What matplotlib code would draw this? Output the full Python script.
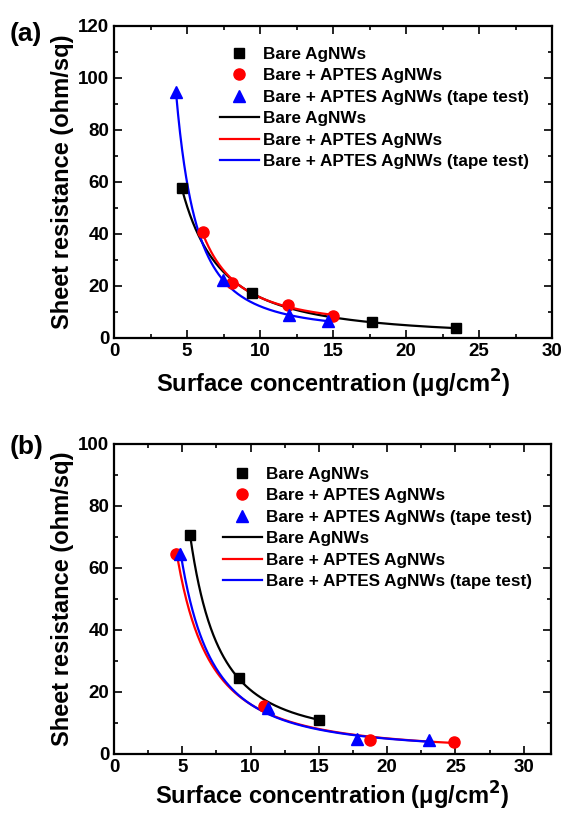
import numpy as np
import matplotlib
matplotlib.use("Agg")
import matplotlib.pyplot as plt
from matplotlib.ticker import MultipleLocator
from matplotlib.lines import Line2D

plt.rcParams['font.family'] = ['Liberation Sans', 'DejaVu Sans']
plt.rcParams['font.weight'] = 'bold'
plt.rcParams['mathtext.default'] = 'bf'

series_names = ["Bare AgNWs", "Bare + APTES AgNWs", "Bare + APTES AgNWs (tape test)"]

# Panel (a)
a_bare_x = [4.64, 9.44, 17.66, 23.44]
a_bare_y = [57.6, 17.3, 6.0, 3.8]
a_aptes_x = [6.12, 8.11, 11.95, 14.99]
a_aptes_y = [40.6, 21.1, 12.8, 8.6]
a_tape_x = [4.25, 7.45, 12.0, 14.65]
a_tape_y = [94.5, 22.2, 9.0, 6.4]

# Panel (b)
b_bare_x = [5.57, 9.12, 15.04]
b_bare_y = [70.6, 24.4, 11.0]
b_aptes_x = [4.55, 10.95, 18.73, 24.9]
b_aptes_y = [64.4, 15.5, 4.5, 4.0]
b_tape_x = [4.84, 11.3, 17.8, 23.05]
b_tape_y = [64.5, 14.7, 4.7, 4.5]

colors = ["black", "red", "blue"]
markers = ["s", "o", "^"]
msizes = [7.5, 8, 9]

fig = plt.figure(figsize=(5.61, 8.14), dpi=100)
W, H = 561, 814

def ax_at(l, t, r, b):
    return fig.add_axes([l / W, 1 - b / H, (r - l) / W, (b - t) / H])

def fit_curve(x, y):
    x = np.asarray(x, float); y = np.asarray(y, float)
    deg = 2 if len(x) >= 3 else 1
    c = np.polyfit(np.log(x), np.log(y), deg)
    xs = np.linspace(x.min(), x.max(), 300)
    return xs, np.exp(np.polyval(c, np.log(xs)))

def draw(ax, data, xmax, ymax, ymajor, legend_anchor, xlabelpad):
    for (x, y), c, m, ms in zip(data, colors, markers, msizes):
        ax.plot(x, y, linestyle='none', marker=m, color=c, markersize=ms, zorder=3)
    for (x, y), c in zip(data, colors):
        xs, ys = fit_curve(x, y)
        ax.plot(xs, ys, color=c, lw=1.6, zorder=2)
    ax.set_xlim(0, xmax)
    ax.set_ylim(0, ymax)
    ax.xaxis.set_major_locator(MultipleLocator(5))
    ax.xaxis.set_minor_locator(MultipleLocator(2.5))
    ax.yaxis.set_major_locator(MultipleLocator(ymajor))
    ax.yaxis.set_minor_locator(MultipleLocator(ymajor / 2))
    ax.tick_params(which='both', direction='in', top=True, right=True, width=1.2)
    ax.tick_params(which='major', length=5.5, labelsize=13.5, pad=3.5)
    ax.tick_params(which='minor', length=3)
    for lab in ax.get_xticklabels() + ax.get_yticklabels():
        lab.set_fontweight('bold')
    for s in ax.spines.values():
        s.set_linewidth(1.6)
    ax.set_xlabel("Surface concentration (μg/cm$^2$)", fontsize=17, fontweight='bold',
                  labelpad=xlabelpad)
    ax.set_ylabel("Sheet resistance (ohm/sq)", fontsize=17, fontweight='bold', labelpad=3)
    handles = [Line2D([], [], linestyle='none', marker=m, color=c, markersize=ms)
               for c, m, ms in zip(colors, markers, msizes)]
    handles += [Line2D([], [], color=c, lw=1.6) for c in colors]
    labels = series_names + series_names
    ax.legend(handles, labels, loc='upper left', bbox_to_anchor=legend_anchor,
              frameon=False, prop={'weight': 'bold', 'size': 12.3},
              handlelength=2.28, handletextpad=0.23, labelspacing=0.38, borderpad=0,
              borderaxespad=0)

ax1 = ax_at(114, 26, 552, 338)
draw(ax1, [(a_bare_x, a_bare_y), (a_aptes_x, a_aptes_y), (a_tape_x, a_tape_y)],
     30, 120, 20, (0.242, 0.933), 6)
ax2 = ax_at(114, 444, 551, 754)
draw(ax2, [(b_bare_x, b_bare_y), (b_aptes_x, b_aptes_y), (b_tape_x, b_tape_y)],
     32, 100, 20, (0.249, 0.926), 2.5)

fig.text(10 / W, 1 - 34 / H, "(a)", fontsize=19, fontweight='bold', va='center', ha='left')
fig.text(10 / W, 1 - 447 / H, "(b)", fontsize=19, fontweight='bold', va='center', ha='left')

fig.savefig("out.png", dpi=100)
